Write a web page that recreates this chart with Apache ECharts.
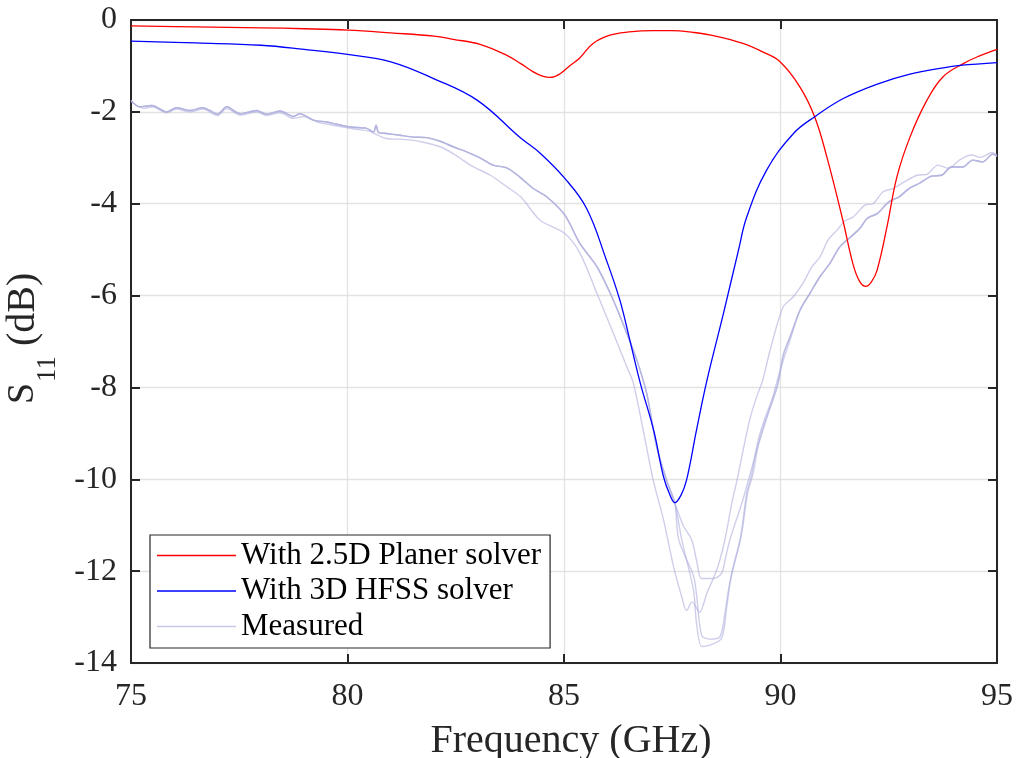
<!DOCTYPE html>
<html>
<head>
<meta charset="utf-8">
<script src="https://cdn.jsdelivr.net/npm/echarts@6/dist/echarts.min.js"></script>
<style>
  html, body { margin: 0; padding: 0; background: #ffffff; }
  #chart { width: 1019px; height: 758px; }
</style>
</head>
<body>
<div id="chart"></div>
<script>
// Axis settings
const xTicks = { min: 75, max: 95, interval: 5 };
const yTicks = { min: -14, max: 0, interval: 2 };

const seriesNames = ['With 2.5D Planer solver', 'With 3D HFSS solver', 'Measured'];

// Simulated S11 (GHz, dB)
const planar = [
  [75, -0.13], [76.5, -0.15], [78, -0.17], [79, -0.19], [80, -0.22], [81, -0.28],
  [82, -0.35], [82.44, -0.42], [83.06, -0.53], [83.68, -0.77], [84, -0.95],
  [84.29, -1.13], [84.5, -1.22], [84.68, -1.25], [84.91, -1.17], [85.14, -0.99],
  [85.37, -0.82], [85.67, -0.51], [86.06, -0.33], [86.5, -0.26], [87.06, -0.23],
  [87.5, -0.23], [87.98, -0.27], [88.5, -0.35], [89.13, -0.51], [89.6, -0.7],
  [89.99, -0.91], [90.45, -1.46], [90.79, -2.11], [91.07, -2.98], [91.44, -4.36],
  [91.67, -5.30], [91.82, -5.68], [91.97, -5.80], [92.1, -5.7], [92.23, -5.45],
  [92.46, -4.50], [92.69, -3.41], [92.99, -2.55], [93.38, -1.75], [93.75, -1.24],
  [94.22, -0.95], [94.6, -0.78], [95, -0.64]
];

const hfss = [
  [75, -0.46], [76.5, -0.5], [78, -0.55], [79, -0.64], [80, -0.75], [81, -0.91],
  [82, -1.28], [83, -1.75], [84, -2.57], [84.45, -2.9], [85.02, -3.45],
  [85.52, -4.1], [85.98, -5.23], [86.29, -6.10], [86.52, -6.97], [86.76, -7.9],
  [87.07, -8.93], [87.30, -9.95], [87.45, -10.35], [87.56, -10.51], [87.7, -10.35],
  [87.83, -10.02], [88.06, -8.93], [88.3, -7.85], [88.68, -6.4], [89.03, -5.01],
  [89.22, -4.29], [89.68, -3.27], [90.30, -2.47], [90.80, -2.10], [91.45, -1.71],
  [92.22, -1.40], [92.99, -1.18], [93.76, -1.04], [94.15, -0.99], [95, -0.93]
];

// Measured S11: three sweeps that overlap away from the resonance
const measuredLow = [
  [75.0, -1.75], [75.2, -1.89], [75.48, -1.86], [75.82, -2.0], [76.05, -1.91],
  [76.36, -1.97], [76.66, -1.91], [76.82, -1.97], [77.0, -2.05], [77.21, -1.89],
  [77.52, -2.04], [77.9, -1.97], [78.13, -2.05], [78.44, -1.98], [78.75, -2.10],
  [78.9, -2.04], [79.21, -2.18], [79.52, -2.22], [79.75, -2.27], [80.06, -2.33],
  [80.44, -2.36], [80.6, -2.44], [80.66, -2.29], [80.72, -2.45], [80.9, -2.47],
  [81.21, -2.51], [81.51, -2.55], [81.83, -2.56], [82.14, -2.64], [82.44, -2.76],
  [82.75, -2.87], [83.06, -3.0], [83.36, -3.16], [83.68, -3.22], [83.98, -3.42],
  [84.29, -3.67], [84.6, -3.85], [85.02, -4.25], [85.37, -4.87], [85.76, -5.37],
  [86.14, -6.1], [86.45, -6.82], [86.68, -7.4], [86.91, -8.13], [87.14, -9.29],
  [87.37, -10.02], [87.56, -10.52]
];
const measuredHigh = [
  [90.45, -6.32], [90.68, -5.95], [90.91, -5.59], [91.14, -5.30], [91.37, -4.94],
  [91.6, -4.74], [91.83, -4.54], [92.0, -4.32], [92.24, -4.21], [92.5, -3.96],
  [92.74, -3.85], [92.97, -3.67], [93.2, -3.56], [93.49, -3.40], [93.72, -3.38],
  [93.95, -3.2], [94.21, -3.2], [94.44, -3.05], [94.67, -3.09], [94.9, -2.92],
  [95.0, -2.97]
];
const measuredDipA = [
  [87.75, -11.0], [87.95, -11.32], [88.06, -11.76], [88.18, -12.16], [88.45, -12.16],
  [88.64, -12.05], [88.72, -11.76], [88.83, -11.32], [89.13, -10.45], [89.45, -9.37],
  [89.76, -8.43], [89.99, -7.63], [90.22, -6.97]
];
const measuredDipB = [
  [87.72, -11.32], [87.99, -12.41], [88.06, -13.13], [88.18, -13.64], [88.37, -13.61],
  [88.64, -13.46], [88.76, -12.77], [88.87, -12.05], [89.07, -11.3], [89.22, -10.3],
  [89.33, -9.9], [89.47, -9.2], [89.63, -8.7], [89.79, -8.3], [89.93, -7.95],
  [90.06, -7.3], [90.22, -6.9]
];
const measuredDipC = [
  [87.65, -11.32], [87.99, -12.1], [88.06, -12.5], [88.18, -13.4], [88.37, -13.48],
  [88.6, -13.43], [88.72, -12.9], [88.8, -12.4], [88.92, -11.9], [89.1, -11.2],
  [89.24, -10.3], [89.36, -9.9], [89.5, -9.2], [89.66, -8.7], [89.82, -8.3],
  [89.95, -7.9], [90.08, -7.25], [90.24, -6.85]
];
// A fourth sweep sits slightly lower in frequency
const measuredShifted = [
  [75.0, -1.78], [75.3, -1.92], [75.5, -1.89], [75.82, -2.02], [76.05, -1.94],
  [76.36, -2.0], [76.66, -1.94], [77.0, -2.08], [77.21, -1.93], [77.52, -2.07],
  [77.9, -2.0], [78.13, -2.08], [78.44, -2.02], [78.75, -2.14], [79.0, -2.1],
  [79.3, -2.22], [79.6, -2.28], [79.9, -2.33], [80.2, -2.38], [80.5, -2.42],
  [80.9, -2.58], [81.3, -2.6], [81.7, -2.65], [82.14, -2.76], [82.44, -2.91],
  [82.91, -3.2], [83.3, -3.38], [83.68, -3.63], [84.0, -3.85], [84.45, -4.36],
  [85.02, -4.65], [85.37, -5.08], [85.76, -5.95], [86.14, -6.82], [86.45, -7.55],
  [86.6, -7.9], [86.83, -8.93], [87.06, -10.02], [87.3, -10.89], [87.53, -11.9],
  [87.72, -12.56], [87.83, -12.86], [87.96, -12.67], [88.13, -12.9], [88.3, -12.48],
  [88.5, -12.04], [88.6, -11.76], [88.72, -11.3], [88.88, -10.5], [89.0, -10.0],
  [89.13, -9.4], [89.29, -8.7], [89.45, -8.2], [89.59, -7.84], [89.76, -7.19],
  [90.06, -6.25], [90.29, -6.03], [90.52, -5.73], [90.72, -5.38], [90.91, -5.16],
  [91.1, -4.79], [91.3, -4.58], [91.49, -4.37], [91.68, -4.29], [91.95, -4.03],
  [92.14, -4.0], [92.37, -3.74], [92.6, -3.67], [92.87, -3.52], [93.15, -3.38],
  [93.38, -3.36], [93.64, -3.16], [93.87, -3.23], [94.15, -3.04], [94.41, -2.94],
  [94.61, -2.99], [94.88, -2.89], [95.0, -2.93]
];

const measuredSweeps = [
  measuredLow.concat(measuredDipA, measuredHigh),
  measuredLow.concat(measuredDipB, measuredHigh),
  measuredLow.concat(measuredDipC, measuredHigh),
  measuredShifted
];

const FONT = '"Liberation Serif", "Times New Roman", serif';
const INK = '#262626';
const MEAS_COLOR = 'rgba(176, 176, 222, 0.62)';

const chart = echarts.init(document.getElementById('chart'), null, { renderer: 'canvas' });

const frameAxis = {
  axisLine: { show: true, onZero: false, lineStyle: { color: INK, width: 2 } },
  axisTick: { show: true, inside: true, length: 9, lineStyle: { color: INK, width: 2 } },
  axisLabel: { show: false },
  splitLine: { show: false }
};

const measuredSeries = measuredSweeps.map(function (d) {
  return {
    name: seriesNames[2], type: 'line', data: d, symbol: 'none',
    smooth: 0.3,
    lineStyle: { color: MEAS_COLOR, width: 1.4 },
    itemStyle: { color: 'rgb(200, 200, 232)' },
    z: 2
  };
});

chart.setOption({
  animation: false,
  backgroundColor: '#ffffff',
  grid: { left: 131, right: 22, top: 20, bottom: 95, containLabel: false, outerBoundsMode: 'none' },
  xAxis: [
    {
      type: 'value', min: xTicks.min, max: xTicks.max, interval: xTicks.interval,
      position: 'bottom',
      name: 'Frequency (GHz)', nameLocation: 'middle', nameGap: 58,
      nameTextStyle: { fontFamily: FONT, fontSize: 40, color: INK, padding: [0, 0, 0, 14] },
      axisLine: { show: true, onZero: false, lineStyle: { color: INK, width: 2 } },
      axisTick: { show: true, inside: true, length: 9, lineStyle: { color: INK, width: 2 } },
      axisLabel: { show: true, margin: 18, fontFamily: FONT, fontSize: 32, color: INK },
      splitLine: { show: true, lineStyle: { color: '#e2e2e2', width: 1.3 } }
    },
    Object.assign({ type: 'value', min: xTicks.min, max: xTicks.max, interval: xTicks.interval, position: 'top' }, frameAxis)
  ],
  yAxis: [
    {
      type: 'value', min: yTicks.min, max: yTicks.max, interval: yTicks.interval,
      position: 'left',
      axisLine: { show: true, onZero: false, lineStyle: { color: INK, width: 2 } },
      axisTick: { show: true, inside: true, length: 9, lineStyle: { color: INK, width: 2 } },
      axisLabel: { show: true, margin: 14, fontFamily: FONT, fontSize: 32, color: INK },
      splitLine: { show: true, lineStyle: { color: '#e2e2e2', width: 1.3 } }
    },
    Object.assign({ type: 'value', min: yTicks.min, max: yTicks.max, interval: yTicks.interval, position: 'right' }, frameAxis)
  ],
  legend: {
    data: seriesNames,
    orient: 'vertical',
    left: 150, top: 535,
    padding: [5, 9, 6, 7],
    itemGap: 4.5,
    itemWidth: 79, itemHeight: 1.5,
    itemStyle: { borderWidth: 0 },
    icon: 'rect',
    backgroundColor: '#ffffff',
    borderColor: INK, borderWidth: 1.2, borderRadius: 0,
    textStyle: { fontFamily: FONT, fontSize: 31, color: '#000000', lineHeight: 31 },
    itemTextGap: 8,
    selectedMode: false
  },
  graphic: [
    {
      type: 'group', x: 0, y: 0, rotation: Math.PI / 2, silent: true,
      children: [
        { type: 'text', x: -404, y: 23, style: { text: 'S', font: '38px ' + FONT, fill: INK, textAlign: 'left', textVerticalAlign: 'middle' } },
        { type: 'text', x: -382, y: 48, style: { text: '11', font: '27px ' + FONT, fill: INK, textAlign: 'left', textVerticalAlign: 'middle' } },
        { type: 'text', x: -346, y: 23, style: { text: '(dB)', font: '40px ' + FONT, fill: INK, textAlign: 'left', textVerticalAlign: 'middle' } }
      ]
    }
  ],
  series: measuredSeries.concat([
    {
      name: seriesNames[0], type: 'line', data: planar, symbol: 'none',
      smooth: 0.4,
      lineStyle: { color: '#ff0000', width: 1.3 },
      itemStyle: { color: '#ff0000' }, z: 3
    },
    {
      name: seriesNames[1], type: 'line', data: hfss, symbol: 'none',
      smooth: 0.4,
      lineStyle: { color: '#0000ff', width: 1.3 },
      itemStyle: { color: '#0000ff' }, z: 4
    }
  ])
});
</script>
</body>
</html>
